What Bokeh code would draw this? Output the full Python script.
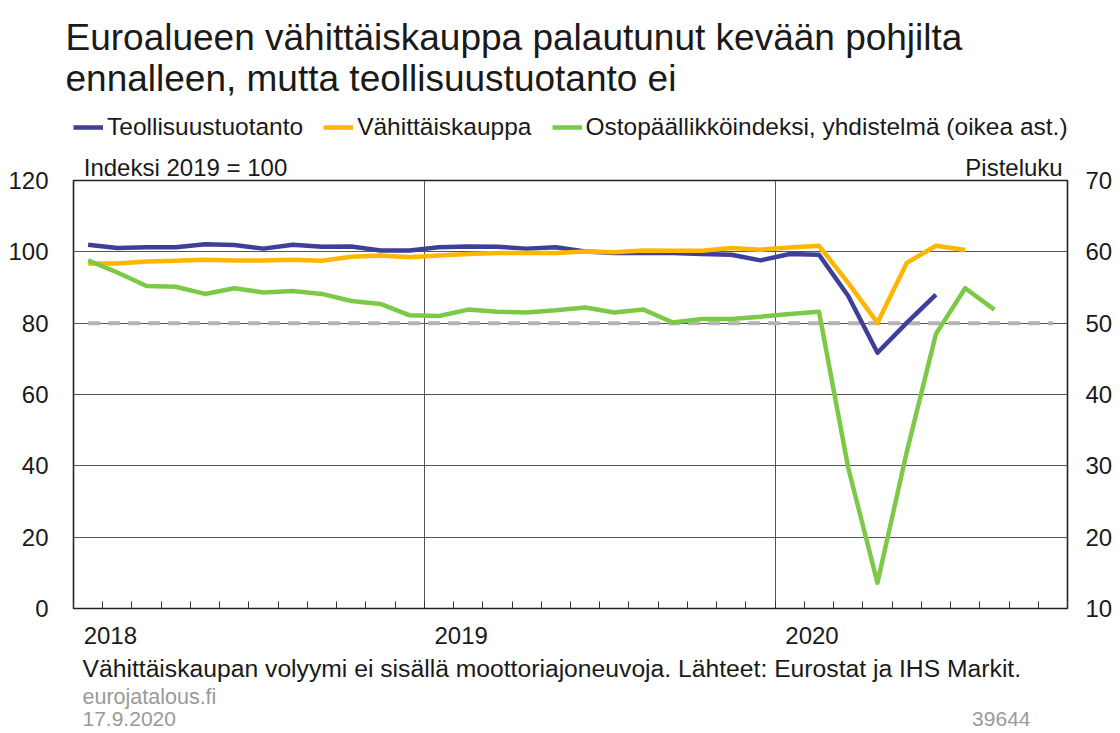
import pandas as pd
from bokeh.plotting import figure
from bokeh.layouts import column
from bokeh.models import (Range1d, LinearAxis, FixedTicker, Label, Legend, LegendItem, Grid, Title)
from bokeh.embed import file_html
from bokeh.resources import INLINE

# ---------------- data ----------------
months = [f"{y}-{m:02d}" for y in (2018, 2019, 2020) for m in range(1, 13)][:34]  # Jan 2018 .. Oct 2020
years = ["2018", "2019", "2020"]

# Industrial production, index 2019 = 100 (Jan 2018 .. Jun 2020)
teollisuustuotanto = [102.0, 101.1, 101.3, 101.3, 102.1, 101.9, 100.9, 102.0, 101.4, 101.5, 100.4, 100.4,
                      101.3, 101.5, 101.4, 100.9, 101.3, 100.1, 99.7, 99.7, 99.7, 99.4, 99.2, 97.6,
                      99.4, 99.2, 87.6, 71.7, 80.1, 88.0]
# Retail trade volume, index 2019 = 100 (Jan 2018 .. Jul 2020)
vahittaiskauppa = [96.7, 96.7, 97.3, 97.5, 97.8, 97.6, 97.6, 97.8, 97.5, 98.6, 99.0, 98.5,
                   99.0, 99.4, 99.7, 99.7, 99.7, 100.1, 99.9, 100.4, 100.3, 100.3, 101.1, 100.6,
                   101.2, 101.7, 91.3, 80.1, 96.9, 101.7, 100.5]
# Composite PMI, points (right axis) (Jan 2018 .. Aug 2020)
ostopaallikkoindeksi = [58.8, 57.1, 55.2, 55.1, 54.1, 54.9, 54.3, 54.5, 54.1, 53.1, 52.7, 51.1,
                        51.0, 51.9, 51.6, 51.5, 51.8, 52.2, 51.5, 51.9, 50.1, 50.6, 50.6, 50.9,
                        51.3, 51.6, 29.7, 13.6, 31.9, 48.5, 54.9, 51.9]
pmi_neutral = 50

left_ticks = [0, 20, 40, 60, 80, 100, 120]
right_ticks = [10, 20, 30, 40, 50, 60, 70]

series_labels = ["Teollisuustuotanto", "Vähittäiskauppa",
                 "Ostopäällikköindeksi, yhdistelmä (oikea ast.)"]
title_lines = ["Euroalueen vähittäiskauppa palautunut kevään pohjilta",
               "ennalleen, mutta teollisuustuotanto ei"]
unit_labels = ["Indeksi 2019 = 100", "Pisteluku"]

# ---------------- styling ----------------
FONT = "Liberation Sans"
BLUE = "#3d3f98"
YELLOW = "#ffb600"
GREEN = "#7cc947"
TXT = "#1a1a1a"
GREY_TXT = "#9a9a9a"
W = 1120
HEAD_H, MAIN_H, FOOT_H = 150, 505, 78
FRAME_L, FRAME_R = 73, 1067

month_pos = [i + 0.5 for i in range(len(months))]
year_start = [months.index(f"{y}-01") for y in years]
px_per_month = (FRAME_R - FRAME_L) / len(months)
series = [(teollisuustuotanto, BLUE, "default"), (vahittaiskauppa, YELLOW, "default"),
          (ostopaallikkoindeksi, GREEN, "right")]

# ---------------- header: title + legend ----------------
head = figure(width=W, height=HEAD_H, output_backend="svg", toolbar_location=None,
              x_range=Range1d(FRAME_L, FRAME_R), y_range=Range1d(0, 1),
              x_axis_type=None, y_axis_type=None, min_border_left=0, min_border_right=0,
              min_border_bottom=0, min_border_top=112)
head.outline_line_color = None
head.xgrid.visible = False
head.ygrid.visible = False
head.add_layout(Title(text="\n".join(title_lines), align="left", offset=-8, standoff=29,
                      text_font=FONT, text_font_size="37px", text_font_style="normal",
                      text_color=TXT, text_line_height=1.0), "above")

# legend keys: the same series, outside the header's visible range (only the key is seen)
proxies = [head.line(month_pos[:1], vals[:1], line_color=c, line_width=4.5)
           for vals, c, _ in series]
legend = Legend(items=[LegendItem(label=l, renderers=[r]) for l, r in zip(series_labels, proxies)],
                orientation="horizontal", location="top_left", padding=0, margin=0, spacing=20,
                glyph_width=30, glyph_height=20, label_standoff=4,
                label_text_font=FONT, label_text_font_size="24.5px", label_text_color=TXT,
                border_line_alpha=0, background_fill_alpha=0)
head.add_layout(legend)

# ---------------- main chart ----------------
p = figure(width=W, height=MAIN_H, output_backend="svg", toolbar_location=None,
           x_range=Range1d(0, len(months)), y_range=Range1d(left_ticks[0], left_ticks[-1]),
           min_border_left=FRAME_L, min_border_right=W - FRAME_R, min_border_top=179 - HEAD_H,
           min_border_bottom=47)
p.extra_y_ranges = {"right": Range1d(right_ticks[0], right_ticks[-1])}

p.outline_line_color = "#222222"
p.outline_line_width = 1.6
p.xaxis.visible = False
p.yaxis.visible = False
p.xgrid.visible = False
p.ygrid.visible = False


def style_axis(ax, size="24px", standoff=0, color=TXT):
    ax.axis_line_color = None
    ax.major_tick_in = 0
    ax.major_tick_out = 0
    ax.minor_tick_in = 0
    ax.minor_tick_out = 0
    ax.major_label_standoff = standoff
    ax.major_label_text_font = FONT
    ax.major_label_text_font_size = size
    ax.major_label_text_color = color


label_offset = 1.26
xticks = [s + label_offset for s in year_start]
xaxis = LinearAxis(ticker=FixedTicker(ticks=xticks, minor_ticks=list(range(0, len(months) + 1))),
                   major_label_overrides={t: y for t, y in zip(xticks, years)})
style_axis(xaxis, standoff=18)
xaxis.minor_tick_in = 7
xaxis.minor_tick_line_color = "#333333"
p.add_layout(xaxis, "below")

yaxis = LinearAxis(ticker=FixedTicker(ticks=left_ticks))
style_axis(yaxis, standoff=25)
p.add_layout(yaxis, "left")

yaxis_r = LinearAxis(y_range_name="right", ticker=FixedTicker(ticks=right_ticks))
style_axis(yaxis_r, standoff=18)
p.add_layout(yaxis_r, "right")

# unit captions above the frame (left: index, right: points)
unit_ticks = [(185 - FRAME_L) / px_per_month, (1013.5 - FRAME_L) / px_per_month]
unit_axis = LinearAxis(ticker=FixedTicker(ticks=unit_ticks, minor_ticks=[]),
                       major_label_overrides={t: s for t, s in zip(unit_ticks, unit_labels)})
style_axis(unit_axis, standoff=0)
p.add_layout(unit_axis, "above")

p.add_layout(Grid(dimension=1, ticker=FixedTicker(ticks=left_ticks), grid_line_color="#555555",
                  grid_line_width=1))
p.add_layout(Grid(dimension=0, ticker=FixedTicker(ticks=year_start[1:]), grid_line_color="#555555",
                  grid_line_width=1))

p.line([month_pos[0], month_pos[-1]], [pmi_neutral, pmi_neutral], y_range_name="right",
       line_color="#b3b3b3", line_width=4, line_dash="12 8")
for vals, c, rng in series:
    p.line(month_pos[:len(vals)], vals, y_range_name=rng, line_color=c,
           line_width=4.5, line_join="round")

# ---------------- footer ----------------
foot = figure(width=W, height=FOOT_H, output_backend="svg", toolbar_location=None,
              x_range=Range1d(FRAME_L, FRAME_R),
              y_range=Range1d(HEAD_H + MAIN_H + FOOT_H, HEAD_H + MAIN_H),
              x_axis_type=None, y_axis_type=None, min_border=0)
foot.outline_line_color = None
foot.xgrid.visible = False
foot.ygrid.visible = False


def add_label(f, text, x, y, size, color=TXT, align="left"):
    f.add_layout(Label(x=x, y=y, text=text, text_font=FONT, text_font_size=size,
                       text_color=color, text_align=align, text_baseline="middle"))


add_label(foot, "Vähittäiskaupan volyymi ei sisällä moottoriajoneuvoja. Lähteet: Eurostat ja IHS Markit.",
          82, 668, "24.7px")
add_label(foot, "eurojatalous.fi", 82, 696, "21.5px", color=GREY_TXT)
add_label(foot, "17.9.2020", 82, 718, "21px", color=GREY_TXT)
add_label(foot, "39644", 1030, 718, "21px", color=GREY_TXT, align="right")

layout = column(head, p, foot, spacing=0)
open("out.html", "w").write(file_html(layout, INLINE))
